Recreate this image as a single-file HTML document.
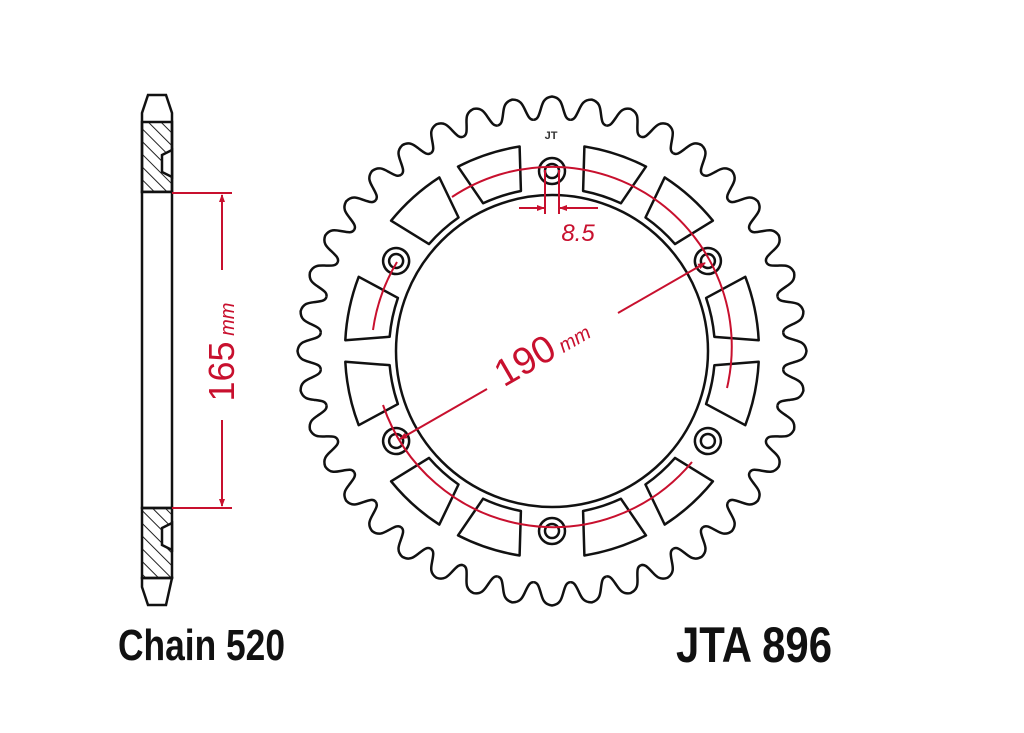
<!DOCTYPE html>
<html><head><meta charset="utf-8"><style>html,body{margin:0;padding:0;background:#fff;}svg{display:block}</style></head>
<body>
<svg width="1024" height="733" viewBox="0 0 1024 733" xmlns="http://www.w3.org/2000/svg">
<defs>
<pattern id="h" width="9" height="9" patternUnits="userSpaceOnUse" patternTransform="rotate(-45)">
<line x1="0" y1="0" x2="0" y2="9" stroke="#222" stroke-width="2"/>
</pattern>
<g id="tooth">
<path d="M -18.2 -231.3 C -14 -231.5 -13 -236 -11 -242.7 C -9.5 -248 -8 -253.5 0 -254.5 C 8 -253.5 9.5 -248 11 -242.7 C 13 -236 14 -231.5 18.2 -231.3" fill="none" stroke="#111" stroke-width="2.5"/>
</g>
<g id="seg" fill="none" stroke="#111" stroke-width="2.5" stroke-linejoin="round">
<path d="M 32.4 -204.5 A 207 207 0 0 1 94 -184.4 L 68.9 -147.7 A 163 163 0 0 0 31.1 -160 Z"/>
<path d="M 112.7 -173.6 A 207 207 0 0 1 160.9 -130.3 L 123 -106.9 A 163 163 0 0 0 93.5 -133.5 Z"/>
<circle cx="0" cy="-180" r="13"/>
<circle cx="0" cy="-180" r="7"/>
</g>
<marker id="ar" markerWidth="8" markerHeight="6" refX="7" refY="3" orient="auto" markerUnits="userSpaceOnUse"><path d="M0,0 L8,3 L0,6 Z" fill="#c8102e"/></marker>
</defs>

<!-- side profile -->
<g stroke="#111" stroke-width="2.5" fill="none">
<path d="M148 95 L166 95 L172 113 L172 192 L142 192 L142 113 Z"/>
<rect x="142" y="122" width="30" height="70" fill="url(#h)" stroke="#111"/>
<path d="M172 150 L162 155 L162 172 L172 177 Z" fill="#fff"/>
<rect x="142" y="192" width="30" height="316" fill="#fff"/>
<rect x="142" y="508" width="30" height="70" fill="url(#h)"/>
<path d="M172 523 L162 528 L162 545 L172 550 Z" fill="#fff"/>
<path d="M142 578 L172 578 L166 605 L148 605 L142 587 Z"/>
</g>
<g stroke="#c8102e" stroke-width="2" fill="none">
<line x1="172" y1="193" x2="232" y2="193"/>
<line x1="172" y1="508" x2="232" y2="508"/>
<line x1="222" y1="270" x2="222" y2="195" marker-end="url(#ar)"/>
<line x1="222" y1="420" x2="222" y2="506" marker-end="url(#ar)"/>
</g>
<text transform="translate(234,352) rotate(-90)" text-anchor="middle" font-family="Liberation Sans, sans-serif" font-size="36" fill="#c8102e">165<tspan font-size="20" font-style="italic"> mm</tspan></text>

<!-- sprocket -->
<g transform="translate(552,351)">
<use href="#tooth"/><use href="#tooth" transform="rotate(9)"/><use href="#tooth" transform="rotate(18)"/><use href="#tooth" transform="rotate(27)"/><use href="#tooth" transform="rotate(36)"/><use href="#tooth" transform="rotate(45)"/><use href="#tooth" transform="rotate(54)"/><use href="#tooth" transform="rotate(63)"/><use href="#tooth" transform="rotate(72)"/><use href="#tooth" transform="rotate(81)"/><use href="#tooth" transform="rotate(90)"/><use href="#tooth" transform="rotate(99)"/><use href="#tooth" transform="rotate(108)"/><use href="#tooth" transform="rotate(117)"/><use href="#tooth" transform="rotate(126)"/><use href="#tooth" transform="rotate(135)"/><use href="#tooth" transform="rotate(144)"/><use href="#tooth" transform="rotate(153)"/><use href="#tooth" transform="rotate(162)"/><use href="#tooth" transform="rotate(171)"/><use href="#tooth" transform="rotate(180)"/><use href="#tooth" transform="rotate(189)"/><use href="#tooth" transform="rotate(198)"/><use href="#tooth" transform="rotate(207)"/><use href="#tooth" transform="rotate(216)"/><use href="#tooth" transform="rotate(225)"/><use href="#tooth" transform="rotate(234)"/><use href="#tooth" transform="rotate(243)"/><use href="#tooth" transform="rotate(252)"/><use href="#tooth" transform="rotate(261)"/><use href="#tooth" transform="rotate(270)"/><use href="#tooth" transform="rotate(279)"/><use href="#tooth" transform="rotate(288)"/><use href="#tooth" transform="rotate(297)"/><use href="#tooth" transform="rotate(306)"/><use href="#tooth" transform="rotate(315)"/><use href="#tooth" transform="rotate(324)"/><use href="#tooth" transform="rotate(333)"/><use href="#tooth" transform="rotate(342)"/><use href="#tooth" transform="rotate(351)"/>
<use href="#seg"/><use href="#seg" transform="rotate(60)"/><use href="#seg" transform="rotate(120)"/><use href="#seg" transform="rotate(180)"/><use href="#seg" transform="rotate(240)"/><use href="#seg" transform="rotate(300)"/>
<circle r="156" fill="none" stroke="#111" stroke-width="2.5"/>
</g>
<text x="551" y="139" text-anchor="middle" font-family="Liberation Sans, sans-serif" font-size="11" font-weight="bold" fill="#333">JT</text>

<!-- red dims on sprocket -->
<g stroke="#c8102e" stroke-width="2" fill="none">
<path d="M 452 197 A 180 180 0 0 1 727 388"/>
<path d="M 397 262 A 180 180 0 0 0 373 330"/>
<path d="M 383 405 A 180 180 0 0 0 692 462"/>
<line x1="487" y1="389" x2="400" y2="439" marker-end="url(#ar)"/>
<line x1="618" y1="313" x2="705" y2="263" marker-end="url(#ar)"/>
<line x1="545" y1="170" x2="545" y2="214"/>
<line x1="559" y1="170" x2="559" y2="214"/>
<line x1="519" y1="208" x2="544" y2="208" marker-end="url(#ar)"/>
<line x1="598" y1="208" x2="560" y2="208" marker-end="url(#ar)"/>
</g>
<text x="578" y="241" text-anchor="middle" font-family="Liberation Sans, sans-serif" font-size="24" font-style="italic" fill="#c8102e">8.5</text>
<text transform="translate(548,362) rotate(-30)" text-anchor="middle" font-family="Liberation Sans, sans-serif" font-size="38" fill="#c8102e">190<tspan font-size="20" font-style="italic"> mm</tspan></text>

<text x="118" y="660" font-family="Liberation Sans, sans-serif" font-weight="bold" font-size="44" textLength="167" lengthAdjust="spacingAndGlyphs" fill="#111">Chain 520</text>
<text x="676" y="662" font-family="Liberation Sans, sans-serif" font-weight="bold" font-size="50" textLength="156" lengthAdjust="spacingAndGlyphs" fill="#111">JTA 896</text>
</svg>
</body></html>
